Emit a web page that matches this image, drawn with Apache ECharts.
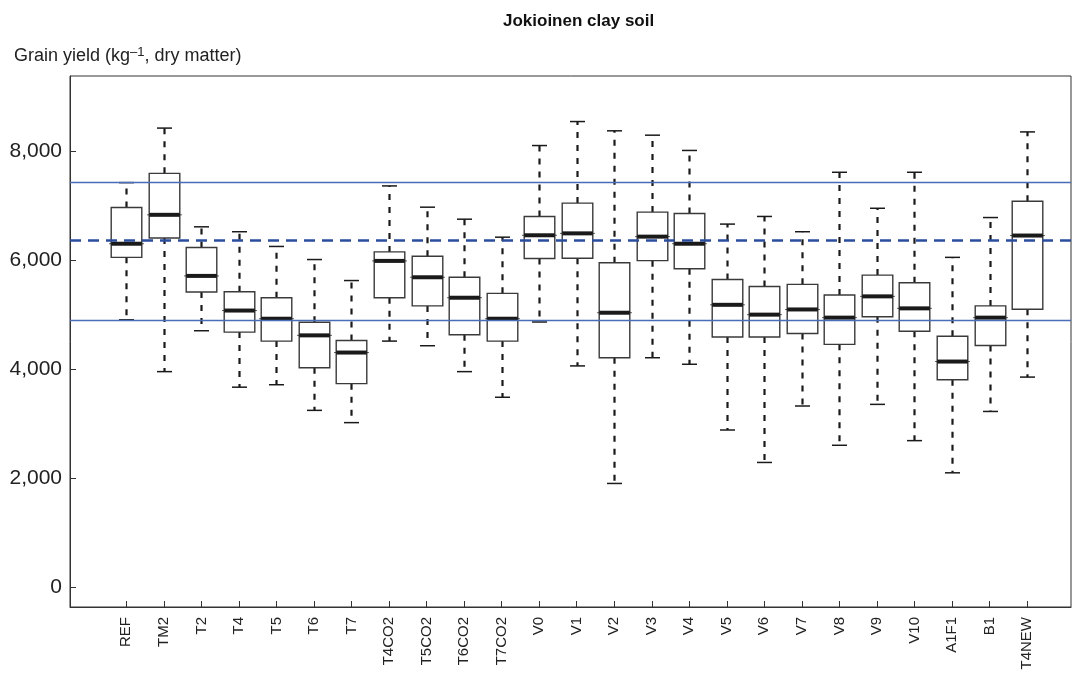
<!DOCTYPE html>
<html><head><meta charset="utf-8">
<script src="https://cdn.jsdelivr.net/npm/echarts@6/dist/echarts.min.js"></script>
<style>html,body{margin:0;padding:0;background:#fff}#c{width:1073px;height:679px}</style>
</head><body><div id="c"></div>
<script>
const categories = ['REF','TM2','T2','T4','T5','T6','T7','T4CO2','T5CO2','T6CO2','T7CO2','V0','V1','V2','V3','V4','V5','V6','V7','V8','V9','V10','A1F1','B1','T4NEW'];
const whiskerHigh = [7420,8420,6610,6520,6250,6010,5625,7360,6970,6750,6420,8100,8540,8370,8290,8010,6660,6800,6520,7610,6950,7610,6050,6780,8350];
const q3 =          [6965,7590,6230,5420,5310,4860,4525,6150,6070,5685,5390,6800,7045,5950,6880,6855,5645,5515,5555,5360,5725,5585,4605,5160,7080];
const median =      [6300,6830,5710,5075,4925,4620,4305,5985,5685,5310,4925,6455,6490,5035,6430,6300,5180,5000,5095,4945,5335,5115,4140,4945,6450];
const q1 =          [6050,6405,5415,4680,4515,4025,3735,5310,5160,4630,4515,6030,6035,4210,5990,5840,4590,4590,4655,4455,4960,4695,3805,4435,5100];
const whiskerLow =  [4905,3955,4705,3670,3715,3245,3020,4515,4430,3955,3485,4865,4060,1905,4210,4090,2885,2290,3325,2605,3355,2690,2100,3225,3855];
const refSolid = [7420, 4895];
const refDashed = [6365];
const yTicks = [0, 2000, 4000, 6000, 8000];

const FONT = '"Liberation Sans", Arial, sans-serif';
const boxData = categories.map((c, i) => [i, whiskerLow[i], q1[i], median[i], q3[i], whiskerHigh[i]]);

const chart = echarts.init(document.getElementById('c'));
chart.setOption({
  animation: false,
  backgroundColor: '#fff',
  title: [
    { text: 'Jokioinen clay soil', left: 498, top: 8, textStyle: { fontFamily: FONT, fontSize: 17, fontWeight: 'bold', color: '#111' } },
    { text: 'Grain yield (kg{s|–1}, dry matter)', left: 9, top: 41,
      textStyle: { fontFamily: FONT, fontSize: 18, fontWeight: 'normal', color: '#222',
        rich: { s: { fontFamily: FONT, fontSize: 13, color: '#222', verticalAlign: 'top', padding: [0,0,7,0] } } } }
  ],
  grid: { left: 70, right: 2, top: 76, bottom: 72, show: true, borderColor: '#333', borderWidth: 1, backgroundColor: 'transparent' },
  xAxis: {
    type: 'value', min: -1.5, max: 25.17,
    axisLine: { show: true, onZero: false, lineStyle: { color: '#333', width: 1 } },
    splitLine: { show: false },
    axisTick: { show: true, inside: true, length: 6, customValues: categories.map((c, i) => i), lineStyle: { color: '#333' } },
    axisLabel: { show: true, rotate: 90, margin: 10, fontFamily: FONT, fontSize: 15, color: '#222',
      customValues: categories.map((c, i) => i),
      formatter: v => categories[Math.round(v)] || '' }
  },
  yAxis: {
    type: 'value', min: -360, max: 9375,
    axisLine: { show: true, onZero: false, lineStyle: { color: '#333', width: 1 } },
    splitLine: { show: false },
    axisTick: { show: true, inside: true, length: 6, customValues: yTicks, lineStyle: { color: '#333' } },
    axisLabel: { show: true, margin: 8, fontFamily: FONT, fontSize: 21, color: '#222', customValues: yTicks,
      formatter: v => Number(v).toLocaleString('en-US') }
  },
  series: [
    {
      type: 'custom',
      data: boxData,
      z: 2,
      renderItem: function (params, api) {
        const x = api.value(0);
        const pLow = api.coord([x, api.value(1)]);
        const pQ1 = api.coord([x, api.value(2)]);
        const pMed = api.coord([x, api.value(3)]);
        const pQ3 = api.coord([x, api.value(4)]);
        const pHigh = api.coord([x, api.value(5)]);
        const unit = api.size([1, 0])[0];
        const bw = unit * 0.815, cw = unit * 0.4, mw = bw + 4;
        const cx = Math.round(pMed[0]) + 0.5;
        const dash = { stroke: '#1a1a1a', lineWidth: 2.2, lineDash: [6, 7] };
        const solid = { stroke: '#1a1a1a', lineWidth: 1.5 };
        return { type: 'group', children: [
          { type: 'line', shape: { x1: cx, y1: pQ3[1], x2: cx, y2: pHigh[1] }, style: dash },
          { type: 'line', shape: { x1: cx, y1: pQ1[1], x2: cx, y2: pLow[1] }, style: dash },
          { type: 'line', shape: { x1: cx - cw / 2, y1: pHigh[1], x2: cx + cw / 2, y2: pHigh[1] }, style: solid },
          { type: 'line', shape: { x1: cx - cw / 2, y1: pLow[1], x2: cx + cw / 2, y2: pLow[1] }, style: solid },
          { type: 'rect', shape: { x: cx - bw / 2, y: pQ3[1], width: bw, height: pQ1[1] - pQ3[1] }, style: { fill: '#fff', stroke: '#3a3a3a', lineWidth: 1.4 } },
          { type: 'line', shape: { x1: cx - mw / 2, y1: pMed[1], x2: cx + mw / 2, y2: pMed[1] }, style: { stroke: '#3a3a3a', lineWidth: 1 } },
          { type: 'line', shape: { x1: cx - bw / 2, y1: pMed[1], x2: cx + bw / 2, y2: pMed[1] }, style: { stroke: '#1a1a1a', lineWidth: 4 } }
        ] };
      }
    },
    {
      type: 'line', data: [], z: 10, silent: true,
      markLine: {
        silent: true, symbol: 'none', label: { show: false }, animation: false,
        data: [
          ...refSolid.map(v => ({ yAxis: v, lineStyle: { color: '#4a6db8', width: 1.4, type: 'solid' } })),
          ...refDashed.map(v => ({ yAxis: v, lineStyle: { color: '#2a4d9e', width: 2.6, type: [11, 7] } }))
        ]
      }
    }
  ]
});
</script></body></html>
